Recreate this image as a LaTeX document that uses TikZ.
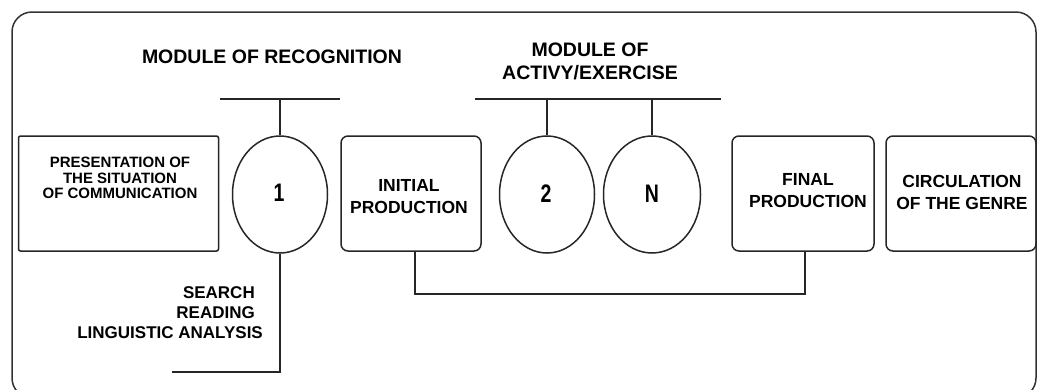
\documentclass[tikz,border=0pt]{standalone}
\usepackage{fontspec}
\usepackage{graphicx}
\setmainfont{Liberation Sans}
\usetikzlibrary{shapes.geometric}
\begin{document}
\begin{tikzpicture}[x=1pt,y=-1pt,
  ln/.style={draw=black!85,line width=1.5pt},
  stagebox/.style={ln,rounded corners=7pt,minimum height=115pt,inner sep=0pt},
  oval/.style={ln,ellipse,minimum width=95pt,minimum height=117pt,inner sep=0pt},
  lbl/.style={font=\bfseries\fontsize{17.5}{22}\selectfont,align=center,inner sep=0pt},
  digit/.style={font=\bfseries\fontsize{19.5}{22}\selectfont,inner sep=0pt},
  hdr/.style={font=\bfseries\fontsize{19.5}{23}\selectfont,align=center,inner sep=0pt}]
\useasboundingbox (0,0) rectangle (1037,389);
\begin{scope}
\clip (0,0) rectangle (1037,389);
\draw[draw=black!80,line width=1.5pt,rounded corners=20pt] (12,12) rectangle (1036,398);
\end{scope}
% boxes
\node[stagebox,rounded corners=2pt,minimum width=200pt] (pres) at (118.5,193.5) {};
\node[oval] (e1) at (280,194.5) {};
\node[stagebox,minimum width=140pt] (init) at (411,193.5) {};
\node[oval] (e2) at (547,194.5) {};
\node[oval,minimum width=97pt] (eN) at (652,194.5) {};
\node[stagebox,minimum width=142pt] (final) at (803,193.5) {};
\node[stagebox,minimum width=150pt] (circ) at (961,193.5) {};
% texts
\node[lbl,font=\bfseries\fontsize{15}{15.5}\selectfont] (tpres) at (120,178) {PRESENTATION OF\\THE SITUATION\\OF COMMUNICATION};
\node[digit] (t1) at (279,192.5) {\scalebox{1}[1.3]{1}};
\node[lbl] (tinit) at (409,197) {INITIAL\\PRODUCTION};
\node[digit] (t2) at (546,194) {\scalebox{1}[1.3]{2}};
\node[digit] (tN) at (652,194) {\scalebox{1}[1.3]{N}};
\node[lbl] (tfinal) at (808,191) {FINAL\\PRODUCTION};
\node[lbl] (tcirc) at (962,192) {CIRCULATION\\OF THE GENRE};
\node[hdr] (hrec) at (272,57) {MODULE OF RECOGNITION};
\node[hdr] (hact) at (590,61.5) {MODULE OF\\ACTIVY/EXERCISE};
\node[lbl,align=right,anchor=east,font=\bfseries\fontsize{17}{20}\selectfont] (tsearch) at (263,313) {SEARCH\makebox[8pt]{}\\READING\makebox[8pt]{}\\LINGUISTIC ANALYSIS};
% brackets
\coordinate (b1l) at (220,99);
\coordinate (b1r) at (340,99);
\coordinate (b2l) at (475,99);
\coordinate (b2r) at (721,99);
\coordinate (s1) at (172,372);
\draw[ln] (b1l) -- (b1r);
\draw[ln] (e1.north) -- (e1.north |- b1l);
\draw[ln] (b2l) -- (b2r);
\draw[ln] (e2.north) -- (e2.north |- b2l);
\draw[ln] (eN.north) -- (eN.north |- b2l);
\draw[ln] (e1.south) |- (s1);
\draw[ln] ([xshift=4pt]init.south) -- ++(0,42) -| ([xshift=2pt]final.south);
\end{tikzpicture}
\end{document}
